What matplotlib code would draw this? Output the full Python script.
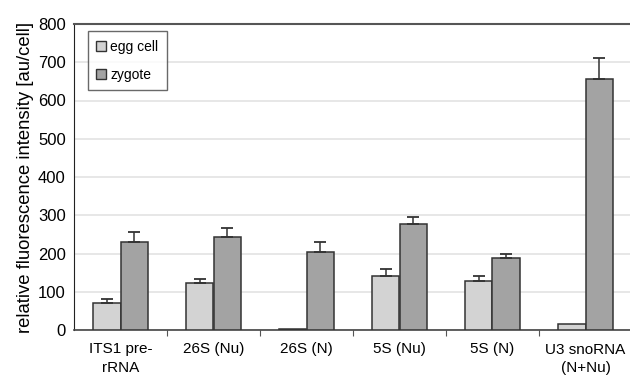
import matplotlib
matplotlib.use("Agg")
import matplotlib.pyplot as plt
import numpy as np
from matplotlib.patches import Patch

plt.rcParams['font.family'] = ['Liberation Sans', 'DejaVu Sans']

categories = ["ITS1 pre-\nrRNA", "26S (Nu)", "26S (N)", "5S (Nu)", "5S (N)", "U3 snoRNA\n(N+Nu)"]
egg = [71, 122, 2, 140, 129, 15]
egg_err = [9, 11, 0, 19, 11, 0]
zyg = [230, 244, 205, 277, 187, 657]
zyg_err = [26, 22, 26, 19, 12, 53]
yticks = [0, 100, 200, 300, 400, 500, 600, 700, 800]

fig = plt.figure(figsize=(6.3, 3.77), dpi=100)
ax = fig.add_axes([74/630, 1-330/377, 558/630, 306/377])

x = np.arange(len(categories))
w = 0.296
edge = '#333333'
ax.bar(x - w/2, egg, w, color='#d3d3d3', edgecolor=edge, linewidth=1.1, zorder=3)
ax.bar(x + w/2, zyg, w, color='#a3a3a3', edgecolor=edge, linewidth=1.1, zorder=3)
e_idx = [i for i in range(len(egg)) if egg_err[i] > 0]
ax.errorbar(x[e_idx] - w/2, np.array(egg)[e_idx], yerr=[np.zeros(len(e_idx)), np.array(egg_err)[e_idx]],
            fmt='none', ecolor=edge, elinewidth=1.1, capsize=4, capthick=1.3, zorder=4)
ax.errorbar(x + w/2, zyg, yerr=[np.zeros(len(zyg)), zyg_err],
            fmt='none', ecolor=edge, elinewidth=1.1, capsize=4, capthick=1.3, zorder=4)

ax.set_xlim(-0.5, len(categories) - 0.5)
ax.set_ylim(0, 800)
ax.set_yticks(yticks)
ax.tick_params(axis='y', labelsize=12, length=0, pad=6)
ax.grid(axis='y', color='#e3e3e3', linewidth=1.2, zorder=0)

ax.set_xticks(np.arange(len(categories) - 1) + 0.5)
ax.set_xticklabels([])
ax.tick_params(axis='x', which='major', length=4, direction='out', color='#555555')
ax.set_xticks(x, minor=True)
ax.set_xticklabels(categories, minor=True, fontsize=11, linespacing=1.45)
ax.tick_params(axis='x', which='minor', length=0, pad=9)

ax.spines['right'].set_visible(False)
ax.spines['top'].set_color('#555555')
ax.spines['top'].set_linewidth(1.5)
ax.spines['left'].set_color('#222222')
ax.spines['bottom'].set_color('#444444')
ax.spines['bottom'].set_linewidth(1.2)

ax.set_ylabel("relative fluorescence intensity [au/cell]", fontsize=13.3, labelpad=3)

handles = [Patch(facecolor='#d3d3d3', edgecolor=edge, label='egg cell'),
           Patch(facecolor='#a3a3a3', edgecolor=edge, label='zygote')]
leg = ax.legend(handles=handles, loc='upper left', bbox_to_anchor=(0.02, 0.985), fontsize=10,
                frameon=True, fancybox=False, edgecolor='#444444', handlelength=0.7, handleheight=0.7,
                handletextpad=0.3, labelspacing=1.0, borderpad=0.6, borderaxespad=0.2)
leg.get_frame().set_linewidth(1.0)

fig.savefig("out.png", dpi=100)
